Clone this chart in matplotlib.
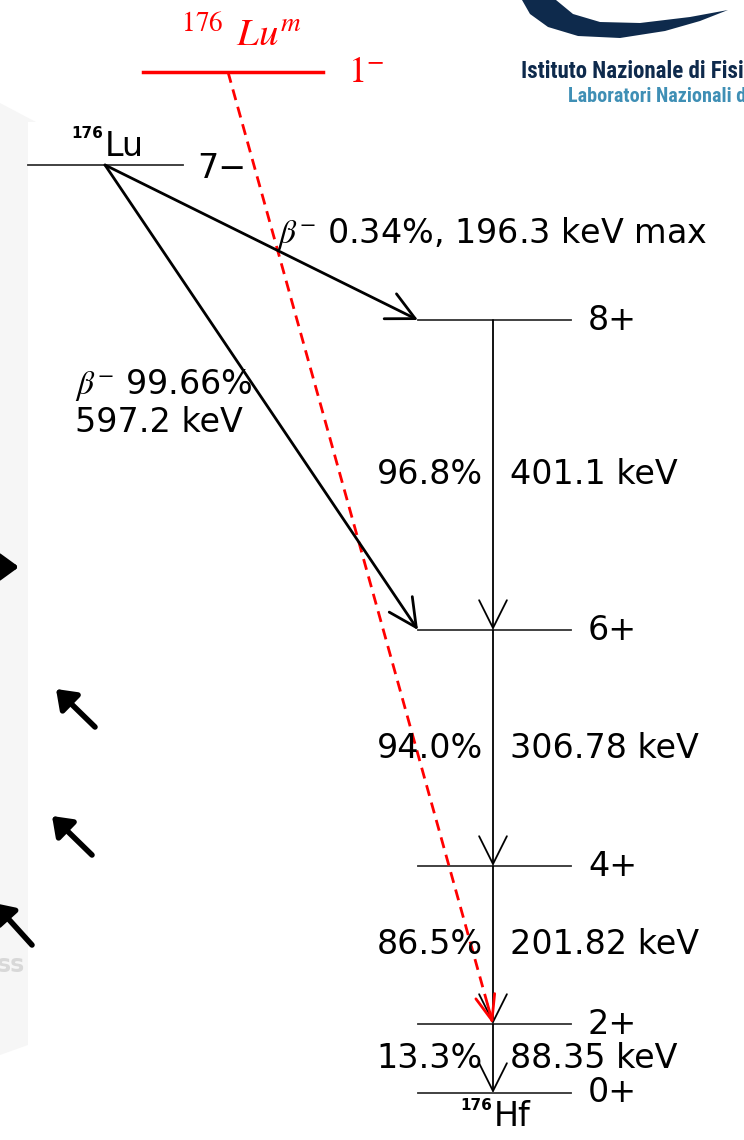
"""Decay scheme of 176Lu (and 176Lu^m) into the 176Hf ground-state band."""

import matplotlib
matplotlib.use("Agg")
import numpy as np
import matplotlib.pyplot as plt
from matplotlib.patches import Polygon

# --- data -----------------------------------------------------------------
hf_levels = ["8+", "6+", "4+", "2+", "0+"]
gamma_pct = ["96.8%", "94.0%", "86.5%", "13.3%"]
gamma_kev = [401.1, 306.78, 201.82, 88.35]

beta_pct = [0.34, 99.66]
beta_kev = [196.3, 597.2]
beta_target = ["8+", "6+"]

parent_spin = "7\u2212"
isomer_spin = r"$1^{-}$"

# --- layout (pixel space, y grows downward) -------------------------------
W, H = 744, 1140
level_y = [320, 630, 866, 1024, 1093]
hf_x0, hf_x1, gamma_x = 418, 571, 493
lu_y, lu_x0, lu_x1, lu_src = 165, 28, 183, 105
iso_y, iso_x0, iso_x1, iso_src = 72, 143, 323, 228

FONT = "DejaVu Sans"
LOGO_FONT = ["Roboto Condensed", "Open Sans Condensed", "Liberation Sans Narrow",
             "DejaVu Sans"]
FS = 24
RED = "#ff0000"
NAVY = "#0e2a4c"
TEAL = "#3f8fb5"

plt.rcParams["mathtext.fontset"] = "stix"

fig = plt.figure(figsize=(W / 100, H / 100), dpi=100)
ax = fig.add_axes([0, 0, 1, 1])
ax.set_xlim(0, W)
ax.set_ylim(H, 0)
ax.axis("off")


def varrow(ax, start, end, color="black", lw=1.5, hl=0.9, hw=0.5):
    ax.annotate("", xy=end, xytext=start, annotation_clip=False,
                arrowprops=dict(arrowstyle=f"->,head_length={hl},head_width={hw}",
                                color=color, lw=lw, shrinkA=0, shrinkB=0,
                                mutation_scale=20))


# slide background panel on the left edge
ax.add_patch(Polygon([(0, 103), (36, 122), (28, 122), (28, 1045), (0, 1055)],
                     closed=True, facecolor="#f6f6f6", edgecolor="none", zorder=0))

# leftover slide arrows
for s, e in [((0, 567), (19, 567)), ((95, 727), (56, 689)),
             ((92, 855), (52, 816)), ((32, 945), (-6, 903))]:
    ax.annotate("", xy=e, xytext=s, annotation_clip=False,
                arrowprops=dict(arrowstyle="-|>,head_length=0.55,head_width=0.4",
                                color="black", lw=4, capstyle="round",
                                shrinkA=0, shrinkB=0, mutation_scale=20))
ax.text(-3, 965, "ss", fontsize=17, fontweight="bold", color="#d8d8d8",
        ha="left", va="center", family=FONT)

# institute logo
swoosh = [(522, 0), (530, 14), (548, 27), (578, 36), (620, 38), (665, 31),
          (700, 21), (728, 10), (690, 17), (640, 23), (600, 22), (573, 14), (556, 0)]
ax.add_patch(Polygon(swoosh, closed=True, facecolor=NAVY, edgecolor="none"))
ax.text(521, 71, "Istituto Nazionale di Fisica Nucleare", fontsize=16.5,
        fontweight="bold", family=LOGO_FONT, color=NAVY,
        ha="left", va="center", clip_on=True)
ax.text(568, 97, "Laboratori Nazionali del Sud", fontsize=14.5,
        fontweight="bold", family=LOGO_FONT, color=TEAL,
        ha="left", va="center", clip_on=True)

# 176Hf levels and the gamma cascade
ydict = dict(zip(hf_levels, level_y))
for name, y in zip(hf_levels, level_y):
    ax.plot([hf_x0, hf_x1], [y, y], color="#333333", lw=1.3)
    ax.text(hf_x1 + 17, y, name, fontsize=FS, family=FONT, ha="left", va="center")

for i, (pct, kev) in enumerate(zip(gamma_pct, gamma_kev)):
    y0, y1 = level_y[i], level_y[i + 1]
    varrow(ax, (gamma_x, y0), (gamma_x, y1), lw=1.3, hl=1.0, hw=0.5)
    ym = (y0 + y1) / 2
    ax.text(gamma_x - 10, ym, pct, fontsize=FS, family=FONT, ha="right", va="center")
    ax.text(gamma_x + 17, ym, f"{kev} keV", fontsize=FS, family=FONT,
            ha="left", va="center")

ax.text(gamma_x - 1, level_y[-1] + 13, "176", fontsize=11, fontweight="bold",
        family=FONT, ha="right", va="center")
ax.text(gamma_x + 1, level_y[-1] + 23, "Hf", fontsize=FS, family=FONT,
        ha="left", va="center")

# 176Lu ground state and beta branches
ax.plot([lu_x0, lu_x1], [lu_y, lu_y], color="#333333", lw=1.3)
ax.text(lu_src - 2, lu_y - 32, "176", fontsize=11, fontweight="bold",
        family=FONT, ha="right", va="center")
ax.text(lu_src, lu_y - 19, "Lu", fontsize=FS, family=FONT, ha="left", va="center")
ax.text(lu_x1 + 14, lu_y + 3, parent_spin, fontsize=FS, family=FONT,
        ha="left", va="center")

for tgt in beta_target:
    varrow(ax, (lu_src, lu_y), (hf_x0, ydict[tgt]), lw=2.0, hl=1.0, hw=0.5)

ax.text(277, 233, f"$\\beta^{{-}}$ {beta_pct[0]}%, {beta_kev[0]} keV max",
        fontsize=FS, family=FONT, ha="left", va="center")
ax.text(75, 385, f"$\\beta^{{-}}$ {beta_pct[1]}%", fontsize=FS, family=FONT,
        ha="left", va="center")
ax.text(75, 423, f"{beta_kev[1]} keV", fontsize=FS, family=FONT,
        ha="left", va="center")

# 176Lu^m isomer feeding the 2+ level
ax.plot([iso_x0, iso_x1], [iso_y, iso_y], color=RED, lw=2.5)
ax.text((iso_x0 + iso_x1) / 2 + 8, 34, r"$^{176}\;\,Lu^{m}$", fontsize=28, color=RED,
        ha="center", va="center")
ax.text(iso_x1 + 25, iso_y, isomer_spin, fontsize=26, color=RED,
        ha="left", va="center")

start = np.array([iso_src, iso_y], dtype=float)
end = np.array([gamma_x, ydict["2+"]], dtype=float)
ax.plot([start[0], end[0]], [start[1], end[1]], color=RED, lw=2.0,
        linestyle=(0, (4, 2.5)))
tail = end - 20 * (end - start) / np.linalg.norm(end - start)
varrow(ax, tuple(tail), tuple(end), color=RED, lw=2.0, hl=0.9, hw=0.35)

fig.savefig("out.png", dpi=100)
